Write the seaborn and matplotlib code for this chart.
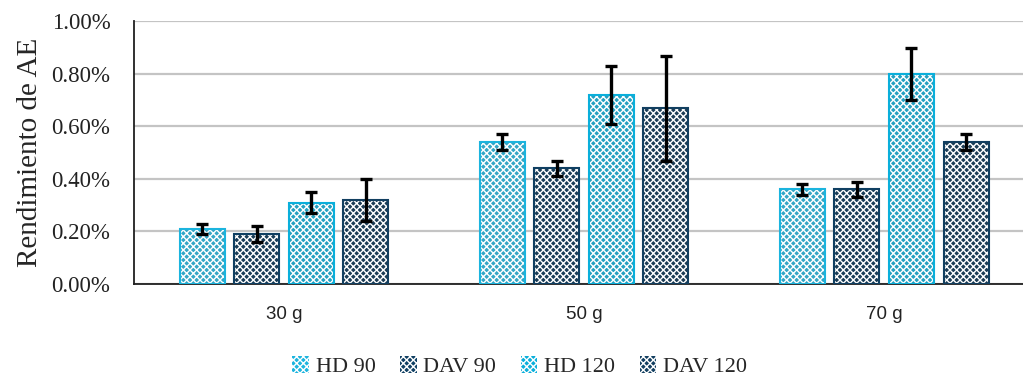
import matplotlib
matplotlib.use("Agg")
import matplotlib.pyplot as plt
import matplotlib.patches as mpatches
import seaborn as sns
import pandas as pd
import numpy as np

categories = ["30 g", "50 g", "70 g"]
series = ["HD 90", "DAV 90", "HD 120", "DAV 120"]
hd90 = [0.21, 0.54, 0.36]
dav90 = [0.19, 0.44, 0.36]
hd120 = [0.31, 0.72, 0.80]
dav120 = [0.32, 0.67, 0.54]
err_hd90 = [0.02, 0.03, 0.02]
err_dav90 = [0.03, 0.03, 0.03]
err_hd120 = [0.04, 0.11, 0.10]
err_dav120 = [0.08, 0.20, 0.03]
yticks = [0.0, 0.2, 0.4, 0.6, 0.8, 1.0]

values = [hd90, dav90, hd120, dav120]
errors = [err_hd90, err_dav90, err_hd120, err_dav120]
rows = []
for s, vals, errs in zip(series, values, errors):
    for c, v, e in zip(categories, vals, errs):
        rows.append({"cat": c, "serie": s, "val": v, "err": e})
df = pd.DataFrame(rows)

colors = {"HD 90": "#1BB4DE", "DAV 90": "#0F3F62", "HD 120": "#0AAFDB", "DAV 120": "#123F60"}
hatches = {"HD 90": "xxxxx", "DAV 90": "xxxxx", "HD 120": "xxxxx", "DAV 120": "xxxxx"}

sns.set_theme(style="white")
plt.rcParams["hatch.linewidth"] = 1.0
plt.rcParams["hatch.color"] = "white"

fig = plt.figure(figsize=(10.23, 3.77), dpi=100)
ax = fig.add_axes([0.131, 0.247, 0.880, 0.696])

sns.barplot(data=df, x="cat", y="val", hue="serie", order=categories, hue_order=series,
            palette=colors, width=0.727, gap=0.175, ax=ax, legend=False, errorbar=None,
            edgecolor="white", linewidth=0)

for i, s in enumerate(series):
    cont = ax.containers[i]
    for j, p in enumerate(cont.patches):
        p.set_hatch(hatches[s])
        p.set_edgecolor("white")
        p.set_linewidth(0)
        ax.add_patch(mpatches.Rectangle(p.get_xy(), p.get_width(), p.get_height(),
                                        fill=False, edgecolor=colors[s], linewidth=1.5, zorder=3))
        sub = df[(df.serie == s) & (df.cat == categories[j])]
        xc = p.get_x() + p.get_width() / 2
        ax.errorbar(xc, sub.val.values[0], yerr=sub.err.values[0],
                    fmt="none", ecolor="black", elinewidth=2.4, capsize=4.4, capthick=2.4, zorder=4)

ax.set_ylim(0, 1.0)
ax.set_yticks(yticks)
ax.set_yticklabels([f"{t:.2f}%" for t in yticks], family="Liberation Serif", fontsize=16.5, color="#222222")
ax.set_xticks(range(len(categories)))
ax.set_xticklabels(categories, family="Liberation Sans", fontsize=13.5, color="#222222")
ax.tick_params(axis="x", pad=16, length=0)
ax.tick_params(axis="y", pad=17, length=0)
ax.set_xlabel("")
ax.set_ylabel("Rendimiento de AE", family="Liberation Serif", fontsize=21, labelpad=6)
ax.yaxis.grid(True, color="#C4C4C4", linewidth=1.6)
ax.set_axisbelow(True)
for sp in ["top", "right"]:
    ax.spines[sp].set_visible(False)
for sp in ["bottom", "left"]:
    ax.spines[sp].set_color("#202020")
    ax.spines[sp].set_linewidth(1.3)
ax.set_xlim(-0.5, 2.5)

handles = [mpatches.Patch(facecolor=colors[s], hatch=hatches[s], edgecolor="white", linewidth=0) for s in series]
fig.legend(handles, series, loc="center", bbox_to_anchor=(0.508, 0.027), ncol=4, frameon=False,
           prop={"family": "Liberation Serif", "size": 16}, handlelength=0.75, handleheight=0.75,
           handletextpad=0.3, columnspacing=1.1)

fig.savefig("out.png", dpi=100)
